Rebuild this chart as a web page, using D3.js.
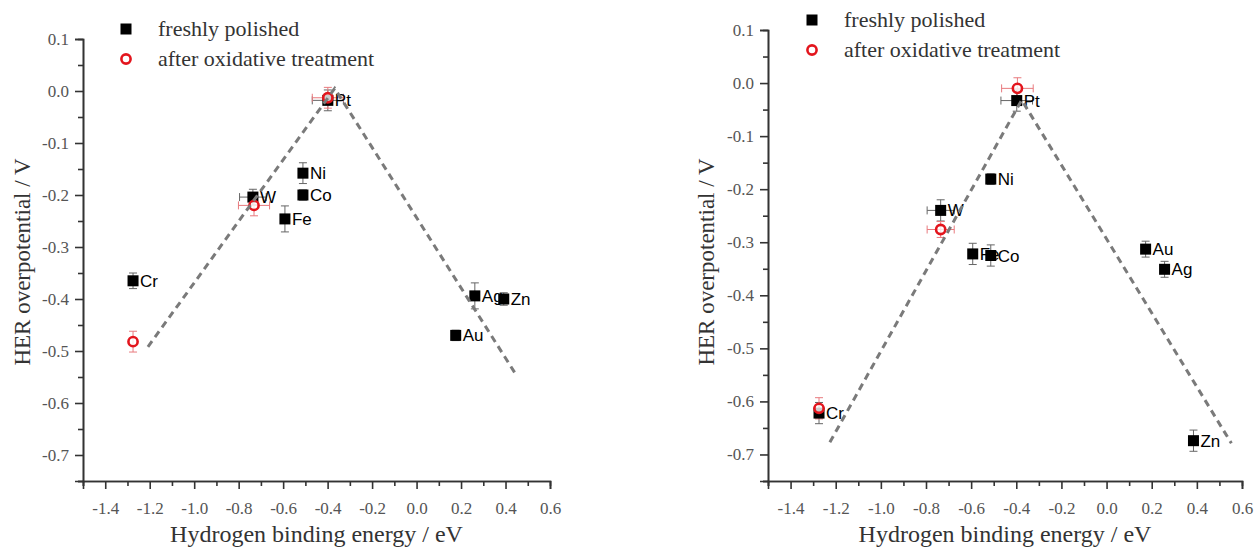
<!DOCTYPE html>
<html>
<head>
<meta charset="utf-8">
<script src="https://cdn.jsdelivr.net/npm/d3@7"></script>
<style>
  body { margin: 0; background: #fff; }
  svg { display: block; }
  .tick-label { font-family: "Liberation Serif", serif; font-size: 17px; fill: #555; }
  .axis-title { font-family: "Liberation Serif", serif; fill: #333; }
  .legend-text { font-family: "Liberation Serif", serif; font-size: 22px; fill: #333; }
  .metal { font-family: "Liberation Sans", Arial, sans-serif; font-size: 17px; fill: #000; }
</style>
</head>
<body>
<div id="chart"></div>
<script>
var svgWidth = 1255;
var svgHeight = 549;

// left panel
var leftMetals = ["Cr", "W", "Fe", "Co", "Ni", "Pt", "Au", "Ag", "Zn"];
var leftFreshX = [-1.275, -0.736, -0.592, -0.511, -0.511, -0.399, 0.176, 0.262, 0.392];
var leftFreshY = [-0.365, -0.204, -0.246, -0.200, -0.158, -0.018, -0.470, -0.394, -0.400];
var leftFreshXErr = [0, 0.06, 0, 0, 0, 0.07, 0, 0, 0];
var leftFreshYErr = [0.015, 0.015, 0.025, 0.01, 0.02, 0.02, 0.01, 0.025, 0.012];
var leftOxMetals = ["Cr", "W", "Pt"];
var leftOxX = [-1.275, -0.731, -0.399];
var leftOxY = [-0.482, -0.220, -0.013];
var leftOxXErr = [0, 0.07, 0.07];
var leftOxYErr = [0.02, 0.02, 0.02];
var leftTrendX = [-1.208, -0.368, 0.451];
var leftTrendY = [-0.492, 0.005, -0.548];

// right panel
var rightMetals = ["Cr", "W", "Fe", "Co", "Ni", "Pt", "Au", "Ag", "Zn"];
var rightFreshX = [-1.274, -0.735, -0.593, -0.513, -0.513, -0.398, 0.173, 0.257, 0.385];
var rightFreshY = [-0.622, -0.240, -0.322, -0.325, -0.181, -0.033, -0.313, -0.351, -0.674];
var rightFreshXErr = [0, 0.06, 0, 0, 0, 0.07, 0, 0, 0];
var rightFreshYErr = [0.02, 0.02, 0.02, 0.02, 0.01, 0.02, 0.015, 0.015, 0.02];
var rightOxMetals = ["Cr", "W", "Pt"];
var rightOxX = [-1.274, -0.735, -0.395];
var rightOxY = [-0.613, -0.276, -0.010];
var rightOxXErr = [0, 0.06, 0.07];
var rightOxYErr = [0.02, 0.015, 0.02];
var rightTrendX = [-1.226, -0.376, 0.553];
var rightTrendY = [-0.677, -0.032, -0.679];

var xTicks = [-1.4, -1.2, -1.0, -0.8, -0.6, -0.4, -0.2, 0.0, 0.2, 0.4, 0.6];
var xMinor = [-1.5, -1.3, -1.1, -0.9, -0.7, -0.5, -0.3, -0.1, 0.1, 0.3, 0.5];
var yTicks = [0.1, 0.0, -0.1, -0.2, -0.3, -0.4, -0.5, -0.6, -0.7];
var yMinor = [0.05, -0.05, -0.15, -0.25, -0.35, -0.45, -0.55, -0.65, -0.75];

var legendLabels = ["freshly polished", "after oxidative treatment"];
var xTitle = "Hydrogen binding energy / eV";
var yTitle = "HER overpotential / V";

var red = "#e3151d";

var svg = d3.select("#chart")
  .append("svg")
  .attr("width", svgWidth)
  .attr("height", svgHeight);

// plain hyphen instead of the unicode minus that d3.format gives
var fmt = d => d.toFixed(1);

function zip(names, xs, ys, xe, ye) {
  return names.map((n, i) => ({ name: n, x: xs[i], y: ys[i], xe: xe[i], ye: ye[i] }));
}

function drawPanel(p) {
  var g = svg.append("g");

  var x = d3.scaleLinear().domain([-1.5, 0.6]).range([p.left, p.right]);
  var y = d3.scaleLinear().domain([-0.75, 0.1]).range([p.bottom, p.top]);

  // axes
  var bottomAxis = d3.axisBottom(x).tickValues(xTicks).tickSize(8).tickPadding(7).tickFormat(fmt);
  var leftAxis = d3.axisLeft(y).tickValues(yTicks).tickSize(8).tickPadding(6).tickFormat(fmt);

  var xg = g.append("g")
    .attr("transform", `translate(0, ${p.bottom})`)
    .call(bottomAxis);
  var yg = g.append("g")
    .attr("transform", `translate(${p.left}, 0)`)
    .call(leftAxis);

  g.append("g")
    .attr("transform", `translate(0, ${p.bottom})`)
    .call(d3.axisBottom(x).tickValues(xMinor).tickSize(5).tickFormat(""));
  g.append("g")
    .attr("transform", `translate(${p.left}, 0)`)
    .call(d3.axisLeft(y).tickValues(yMinor).tickSize(5).tickFormat(""));

  g.selectAll(".domain").attr("stroke", "#333").attr("stroke-width", 1.6);
  g.selectAll(".tick line").attr("stroke", "#333").attr("stroke-width", 1.6);
  g.selectAll(".tick text").attr("class", "tick-label").attr("font-family", null).attr("font-size", null);
  xg.selectAll(".tick text").attr("dy", "1.05em");

  // titles
  g.append("text")
    .attr("class", "axis-title")
    .attr("x", (p.left + p.right) / 2)
    .attr("y", 542)
    .attr("text-anchor", "middle")
    .attr("font-size", 24)
    .text(xTitle);

  g.append("text")
    .attr("class", "axis-title")
    .attr("transform", `translate(${p.yTitleX}, 262) rotate(-90)`)
    .attr("text-anchor", "middle")
    .attr("font-size", 23)
    .text(yTitle);

  var fresh = zip(p.metals, p.fx, p.fy, p.fxe, p.fye);
  var ox = zip(p.oxMetals, p.ox, p.oy, p.oxe, p.oye);

  // error bars
  function errorBars(data, color) {
    var eb = g.append("g").attr("stroke", color).attr("stroke-width", 1).attr("fill", "none");
    data.forEach(d => {
      if (d.ye > 0) {
        eb.append("line").attr("x1", x(d.x)).attr("x2", x(d.x)).attr("y1", y(d.y - d.ye)).attr("y2", y(d.y + d.ye));
        eb.append("line").attr("x1", x(d.x) - 4).attr("x2", x(d.x) + 4).attr("y1", y(d.y - d.ye)).attr("y2", y(d.y - d.ye));
        eb.append("line").attr("x1", x(d.x) - 4).attr("x2", x(d.x) + 4).attr("y1", y(d.y + d.ye)).attr("y2", y(d.y + d.ye));
      }
      if (d.xe > 0) {
        eb.append("line").attr("x1", x(d.x - d.xe)).attr("x2", x(d.x + d.xe)).attr("y1", y(d.y)).attr("y2", y(d.y));
        eb.append("line").attr("x1", x(d.x - d.xe)).attr("x2", x(d.x - d.xe)).attr("y1", y(d.y) - 4).attr("y2", y(d.y) + 4);
        eb.append("line").attr("x1", x(d.x + d.xe)).attr("x2", x(d.x + d.xe)).attr("y1", y(d.y) - 4).attr("y2", y(d.y) + 4);
      }
    });
  }
  errorBars(fresh, "#666");
  errorBars(ox, "#e87a7e");

  // element labels
  g.selectAll(".metal")
    .data(fresh)
    .enter()
    .append("text")
    .attr("class", "metal")
    .attr("x", d => x(d.x) + 7)
    .attr("y", d => y(d.y) + 6)
    .text(d => d.name);

  g.selectAll(".sq")
    .data(fresh)
    .enter()
    .append("rect")
    .attr("class", "sq")
    .attr("x", d => x(d.x) - 5.5)
    .attr("y", d => y(d.y) - 5.5)
    .attr("width", 11)
    .attr("height", 11)
    .attr("fill", "#000");

  g.selectAll(".ox")
    .data(ox)
    .enter()
    .append("circle")
    .attr("class", "ox")
    .attr("cx", d => x(d.x))
    .attr("cy", d => y(d.y))
    .attr("r", 4.6)
    .attr("fill", "#fff")
    .attr("fill-opacity", 0.8)
    .attr("stroke", red)
    .attr("stroke-width", 2.6);

  // trend line
  var line = d3.line().x(d => x(d[0])).y(d => y(d[1]));
  g.append("path")
    .datum(p.tx.map((v, i) => [v, p.ty[i]]))
    .attr("d", line)
    .attr("fill", "none")
    .attr("stroke", "#7a7a7a")
    .attr("stroke-width", 3)
    .attr("stroke-dasharray", "7,5");

  // legend
  var lg = g.append("g");
  lg.append("rect")
    .attr("x", p.legX - 5.5).attr("y", p.legY - 5.5)
    .attr("width", 11).attr("height", 11)
    .attr("fill", "#000");
  lg.append("circle")
    .attr("cx", p.legX).attr("cy", p.legY + 30)
    .attr("r", 4.6)
    .attr("fill", "#fff")
    .attr("stroke", red)
    .attr("stroke-width", 2.6);
  legendLabels.forEach((t, i) => {
    lg.append("text")
      .attr("class", "legend-text")
      .attr("x", p.legX + 32)
      .attr("y", p.legY + 30 * i + 7)
      .text(t);
  });
}

drawPanel({
  left: 83, right: 550, top: 39, bottom: 481,
  yTitleX: 30,
  metals: leftMetals, fx: leftFreshX, fy: leftFreshY, fxe: leftFreshXErr, fye: leftFreshYErr,
  oxMetals: leftOxMetals, ox: leftOxX, oy: leftOxY, oxe: leftOxXErr, oye: leftOxYErr,
  tx: leftTrendX, ty: leftTrendY,
  legX: 126, legY: 29
});

drawPanel({
  left: 768, right: 1242, top: 30, bottom: 481,
  yTitleX: 714,
  metals: rightMetals, fx: rightFreshX, fy: rightFreshY, fxe: rightFreshXErr, fye: rightFreshYErr,
  oxMetals: rightOxMetals, ox: rightOxX, oy: rightOxY, oxe: rightOxXErr, oye: rightOxYErr,
  tx: rightTrendX, ty: rightTrendY,
  legX: 812, legY: 20
});
</script>
</body>
</html>
